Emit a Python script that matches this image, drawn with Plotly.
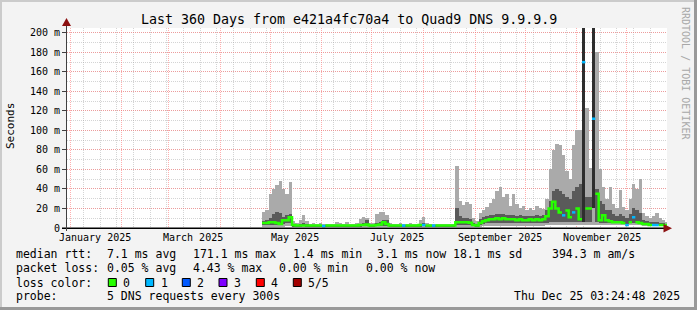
import plotly.graph_objects as go
import pandas as pd

# ---------------- data ----------------
TITLE = "Last 360 Days from e421a4fc70a4 to Quad9 DNS 9.9.9.9"
range_start = "2024-12-30 03:24:48"
range_end = "2025-12-25 03:24:48"
first_bin = "2025-04-26 03:24:48"
bin_days = 2

# light smoke (outer ping spread), ms
smoke_lo = [1.5, 1.5, 1.5, 1.5, 1.5, 1.5, 1.5, 2, 2, 1.5,
            1.5, 1.5, 1.5, 1.5, 1.5, 1.5, 1.5, 1.5, 1.5, 1.5,
            1.5, 1.5, 1.5, 1.5, 1.5, 1.5, 1.5, 1.5, 1.5, 1.5,
            1.5, 1.5, 1.5, 1.5, 1.5, 1.5, 1.5, 1.5, 1.5, 1.5,
            1.5, 1.5, 1.5, 1.5, 1.5, 1.5, 1.5, 1.5, 1.5, 1.5,
            1.5, 1.5, 1.5, 1.5, 1.5, 1.5, 1.5, 1.5, 1.5, 1.5,
            1.5, 1.5, 1.5, 1.5, 1.5, 1.5, 2, 2, 2, 2,
            2, 2, 2, 2, 2, 2, 2, 2, 2, 2,
            2, 2, 2, 2, 2, 3, 3.5, 3.5, 3.5, 3.5,
            3.5, 3.5, 3.5, 3.5, 3.5, 3.5, 3.5, 3.5, 3.5, 3.5,
            3.5, 3, 3, 3, 3, 3, 3, 3, 3, 2.5,
            3, 3, 3, 3, 2.5, 2.5, 2.5, 2.5, 2.5, 2.5,
            2.5, 2.5]
smoke_hi = [16, 18, 35, 40, 44, 48, 40, 35, 47, 7,
            5, 8, 13, 7, 4.5, 5, 4.5, 5.5, 4.5, 4.5,
            4, 4.5, 6, 5, 4.5, 6, 4.5, 4.5, 5, 9,
            11, 10, 5, 5, 14, 16, 16, 13, 5, 4.5,
            4.5, 5, 4.5, 4.5, 5, 4.5, 4.5, 8, 11, 5,
            4.5, 4.5, 4.5, 4, 4.5, 4.5, 4, 4.5, 64, 28,
            24, 27, 25, 10, 7, 15, 18, 22, 26, 30,
            38, 42, 32, 35, 23, 35, 25, 20, 23, 18,
            21, 18, 23, 20, 19, 30, 60, 80, 86, 85,
            75, 58, 50, 85, 100, 100, 400, 123, 62, 400,
            180, 60, 42, 30, 42, 25, 20, 39, 22, 18,
            30, 45, 40, 50, 15, 12, 10, 12, 15, 10,
            8, 6]
# dark smoke (inner ping spread), ms
core_lo = [3, 3, 3, 3, 3, 3, 4, 5, 5, 2,
           2, 2, 2, 2, 2, 2, 2, 2, 2, 2,
           2, 2, 2, 2, 2, 2, 2, 2, 2, 2,
           2, 2, 2, 2, 2, 2, 2, 2, 2, 2,
           2, 2, 2, 2, 2, 2, 2, 2, 2, 2,
           2, 2, 2, 2, 2, 2, 2, 2, 3, 3,
           3, 3, 3, 2, 2, 3, 4, 5, 5, 5,
           5, 5, 5, 5, 5, 5, 5, 5, 5, 5,
           5, 5, 5, 5, 5, 5, 6, 6, 6, 6,
           6, 6, 6, 6, 6, 6, 6, 6, 6, 20,
           6, 5, 5, 5, 5, 5, 5, 5, 5, 4,
           5, 5, 5, 5, 4, 4, 3, 3, 3, 3,
           3, 3]
core_hi = [7, 8, 10, 14, 16, 15, 11, 13, 14, 4,
           3.5, 4, 5, 4, 3, 3, 3, 3, 3, 3,
           3, 3, 3.5, 3.5, 3, 3.5, 3, 3, 3, 4,
           5, 8, 3, 3, 5, 6, 8, 8, 3.5, 3,
           3, 3, 3, 3, 3, 3, 3, 4, 5, 3,
           3, 3, 3, 3, 3, 3, 3, 3, 20, 12,
           10, 10, 9, 5, 4, 9, 11, 12, 13, 13,
           14, 14, 14, 13, 13, 13, 12, 13, 12, 12,
           12, 12, 13, 12, 13, 18, 28, 38, 40, 38,
           35, 32, 30, 38, 42, 45, 400, 32, 32, 400,
           40, 28, 25, 18, 18, 14, 12, 14, 12, 10,
           14, 21, 18, 15, 8, 7, 6, 6, 6, 5,
           5, 4]
median_ms = [5, 5, 6, 6, 5, 4, 8, 8, 11, 3,
             2.5, 2.5, 2.5, 2.5, 2.5, 2.5, 2.5, 2.5, 2, 2.5,
             2.5, 2.5, 2.5, 2.5, 2.5, 2.5, 2.5, 2.5, 2.5, 3,
             3, 3.5, 2.5, 2.5, 3, 3.5, 6, 4, 2.5, 2.5,
             2.5, 2.5, 2.5, 2.5, 2.5, 2.5, 2.5, 3, 3, 2.5,
             2.5, 2.5, 2.5, 2.5, 2.5, 2.5, 2.5, 2.5, 6, 6,
             6, 6, 5.5, 3, 2.5, 5, 7, 8, 9, 9,
             10, 9, 10, 9, 9, 9, 8, 9, 8, 8,
             9, 8, 9, 8, 9, 12, 20, 27, 20, 16,
             13, 18, 11, 16, 20, 9, 170, 20, 20, 112,
             35, 8, 13, 8, 7, 6, 6, 6, 5, 3,
             6, 11, 6, 5, 4, 4, 3, 3, 3, 3,
             3, 3]
loss_count = [0, 0, 0, 0, 0, 0, 0, 0, 0, 0,
              0, 0, 0, 0, 0, 0, 0, 0, 1, 0,
              0, 0, 0, 0, 0, 0, 0, 0, 0, 0,
              0, 0, 0, 0, 0, 0, 0, 0, 0, 0,
              0, 0, 1, 0, 0, 0, 0, 0, 1, 0,
              0, 1, 0, 0, 0, 0, 0, 0, 0, 0,
              0, 0, 0, 0, 0, 0, 0, 0, 0, 0,
              0, 0, 0, 0, 0, 0, 0, 0, 0, 0,
              0, 0, 0, 0, 0, 0, 0, 0, 0, 0,
              1, 0, 0, 1, 0, 0, 1, 0, 0, 1,
              0, 0, 0, 0, 0, 0, 0, 0, 0, 1,
              0, 1, 0, 0, 0, 0, 0, 1, 1, 0,
              0, 0]

y_tick_vals = [0, 20, 40, 60, 80, 100, 120, 140, 160, 180, 200]
y_tick_text = ["0", "20 m", "40 m", "60 m", "80 m", "100 m", "120 m",
               "140 m", "160 m", "180 m", "200 m"]
month_label_dates = ["2025-01-16", "2025-03-16", "2025-05-16",
                     "2025-07-16", "2025-09-16", "2025-11-16"]
month_labels = ["January 2025", "March 2025", "May 2025",
                "July 2025", "September 2025", "November 2025"]

legend_row1 = ["median rtt:", "7.1 ms avg", "171.1 ms max", "1.4 ms min",
               "3.1 ms now", "18.1 ms sd", "394.3 m am/s"]
legend_row2 = ["packet loss:", "0.05 % avg", "4.43 % max", "0.00 % min",
               "0.00 % now"]
loss_colors = ["#26ff00", "#00b8ff", "#0059ff", "#7e00ff", "#ff0000", "#a10000"]
loss_labels = ["0", "1", "2", "3", "4", "5/5"]
probe_text = ["probe:", "5 DNS requests every 300s"]
stamp_text = "Thu Dec 25 03:24:48 2025"

# ---------------- layout geometry ----------------
W, H = 697, 310
PL, PR, PT, PB = 67, 667, 28, 228
FONT = "DejaVu Sans Mono"


def px(x):
    return (x - PL) / (PR - PL)


def py(y):
    return (PB - y) / (PB - PT)


bin_td = pd.Timedelta(days=bin_days)
bin_ms = bin_days * 86400000
dates = pd.date_range(first_bin, periods=len(median_ms), freq=f"{bin_days}D")
fmt = "%Y-%m-%d %H:%M:%S"
date_str = [d.strftime(fmt) for d in dates]
end_str = [(d + bin_td).strftime(fmt) for d in dates]

fig = go.Figure()

fig.add_trace(go.Bar(
    x=date_str, base=smoke_lo, y=[h - l for h, l in zip(smoke_hi, smoke_lo)],
    width=bin_ms, offset=0, marker=dict(color="#aaaaaa", line=dict(width=0)),
    hoverinfo="skip", showlegend=False))
core_colors = ["#2e2e2e" if h > 200 else "#5a5a5a" for h in core_hi]
fig.add_trace(go.Bar(
    x=date_str, base=core_lo, y=[h - l for h, l in zip(core_hi, core_lo)],
    width=bin_ms, offset=0, marker=dict(color=core_colors, line=dict(width=0)),
    hoverinfo="skip", showlegend=False))


def median_runs(want_loss):
    xs, ys = [], []
    n = len(median_ms)
    i = 0
    while i < n:
        if (loss_count[i] > 0) == want_loss:
            j = i
            while j < n and (loss_count[j] > 0) == want_loss:
                j += 1
            for k in range(i, j):
                xs.append(date_str[k])
                ys.append(median_ms[k])
            xs.append(end_str[j - 1])
            ys.append(median_ms[j - 1])
            xs.append(end_str[j - 1])
            ys.append(None)
            i = j
        else:
            i += 1
    return xs, ys


gx, gy = median_runs(False)
fig.add_trace(go.Scatter(
    x=gx, y=gy, mode="lines", line=dict(color=loss_colors[0], width=2.5, shape="hv"),
    hoverinfo="skip", showlegend=False))
cx, cy = median_runs(True)
fig.add_trace(go.Scatter(
    x=cx, y=cy, mode="lines", line=dict(color=loss_colors[1], width=2.5, shape="hv"),
    hoverinfo="skip", showlegend=False))

month_starts = [d.strftime(fmt) for d in pd.date_range("2025-01-01", "2025-12-01", freq="MS")]

fig.update_layout(
    width=W, height=H,
    margin=dict(l=PL, r=W - PR, t=PT, b=H - PB, pad=0),
    paper_bgcolor="#f3f3f3", plot_bgcolor="#ffffff",
    barmode="overlay", bargap=0,
    xaxis=dict(type="date", range=[range_start, range_end],
               tickvals=month_starts, showticklabels=False, ticks="",
               showgrid=True, gridcolor="rgba(255,110,110,0.55)", gridwidth=1,
               griddash="1px,1px",
               minor=dict(showgrid=True, dtick=10 * 86400000, tick0="2025-01-09",
                          gridcolor="rgba(160,160,160,0.45)", griddash="1px,1px",
                          gridwidth=1),
               showline=False, zeroline=False, fixedrange=True),
    yaxis=dict(range=[0, 205], tickvals=y_tick_vals, ticktext=y_tick_text,
               showgrid=True, gridcolor="rgba(255,110,110,0.55)", gridwidth=1,
               griddash="1px,1px",
               minor=dict(showgrid=True, dtick=10,
                          gridcolor="rgba(160,160,160,0.45)", griddash="1px,1px",
                          gridwidth=1),
               ticks="outside", ticklen=4, tickcolor="#404040",
               showline=False, zeroline=False,
               tickfont=dict(family=FONT, size=10, color="#000000")),
    font=dict(family=FONT, color="#000000"),
)

ann = []


def text(s, x, y, size=11.5, anchor="left", color="#000000", angle=0):
    ann.append(dict(text=s, x=px(x), y=py(y), xref="paper", yref="paper",
                    xanchor=anchor, yanchor="middle", showarrow=False,
                    textangle=angle, borderpad=0,
                    font=dict(family=FONT, size=size, color=color)))


# month labels positioned on the time axis
for d, lab in zip(month_label_dates, month_labels):
    ann.append(dict(text=lab, x=d, xref="x", y=py(237.5), yref="paper",
                    xanchor="center", yanchor="middle", showarrow=False, borderpad=0,
                    font=dict(family=FONT, size=10, color="#000000")))

text(TITLE, 348.5, 19, size=13.3, anchor="center")
text("Seconds", 10, 126, size=11, anchor="center", angle=-90)
text("RRDTOOL / TOBI OETIKER", 686, 73, size=10, anchor="center",
     color="#a8a8a8", angle=90)

row1_x = [15, 106, 192, 292, 375.5, 452, 550.5]
for s, x in zip(legend_row1, row1_x):
    text(s, x, 254.3)
row2_x = [15, 106, 192, 278, 365]
for s, x in zip(legend_row2, row2_x):
    text(s, x, 268.3)
text("loss color:", 15, 282.5)
box_x = [108.3, 145.7, 182.3, 219, 256.3, 293.3]
shapes = []
for c, lab, bx in zip(loss_colors, loss_labels, box_x):
    shapes.append(dict(type="rect", xref="paper", yref="paper",
                       x0=px(bx), x1=px(bx + 8), y0=py(286.5), y1=py(278.5),
                       fillcolor=c, line=dict(color="#000000", width=1)))
    text(lab, bx + 14, 282.5)
text(probe_text[0], 15, 296)
text(probe_text[1], 106, 296)
text(stamp_text, 681, 296, anchor="right")

# frame (3D border)
shapes += [
    dict(type="rect", xref="paper", yref="paper", x0=px(0), x1=px(697), y0=py(0), y1=py(2),
         fillcolor="#cbcbcb", line=dict(width=0), layer="below"),
    dict(type="rect", xref="paper", yref="paper", x0=px(0), x1=px(2), y0=py(0), y1=py(310),
         fillcolor="#cbcbcb", line=dict(width=0), layer="below"),
    dict(type="rect", xref="paper", yref="paper", x0=px(0), x1=px(697), y0=py(307), y1=py(310),
         fillcolor="#999999", line=dict(width=0), layer="below"),
    dict(type="rect", xref="paper", yref="paper", x0=px(694), x1=px(697), y0=py(0), y1=py(310),
         fillcolor="#999999", line=dict(width=0), layer="below"),
]
# axis lines and arrows
shapes += [
    dict(type="line", xref="paper", yref="paper", x0=px(62), x1=px(667), y0=py(228.3), y1=py(228.3),
         line=dict(color="#000000", width=1.5)),
    dict(type="line", xref="paper", yref="paper", x0=px(66.5), x1=px(66.5), y0=py(231), y1=py(22),
         line=dict(color="#404040", width=1)),
    dict(type="path", xref="paper", yref="paper",
         path=f"M {px(663.5)} {py(224)} L {px(672)} {py(228.3)} L {px(663.5)} {py(232.6)} Z",
         fillcolor="#8b1010", line=dict(width=0)),
    dict(type="path", xref="paper", yref="paper",
         path=f"M {px(62)} {py(26)} L {px(66.5)} {py(18)} L {px(71)} {py(26)} Z",
         fillcolor="#8b1010", line=dict(width=0)),
]

fig.update_layout(annotations=ann, shapes=shapes)
fig.write_html("out.html")
